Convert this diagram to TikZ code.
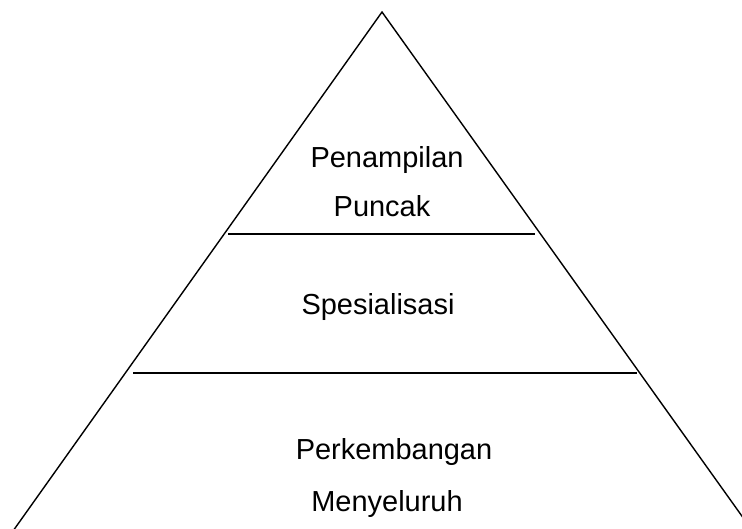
\documentclass[tikz,border=0pt]{standalone}
\usepackage{fontspec}
\setmainfont{Liberation Sans}
\tikzset{lvl/.style={anchor=base, inner sep=0pt, font=\fontsize{20.6}{24}\selectfont}}

\begin{document}
\begin{tikzpicture}[x=0.025cm, y=-0.025cm, line width=1pt]
  \useasboundingbox (0, 0) rectangle (742, 528);
  \clip (0, 0) rectangle (742, 528);

  \coordinate (top) at (382, 12);
  \coordinate (bl)  at (6.6, 540);
  \coordinate (br)  at (759, 540);
  \draw (bl) -- (top) -- (br);

  \draw (228, 234) coordinate (a1) -- (535, 234) coordinate (a2);
  \draw (133, 373) coordinate (b1) -- (637, 373) coordinate (b2);

  \node[lvl] at (387, 167) (pen)  {Penampilan};
  \node[lvl] at (382, 216) (pun)  {Puncak};
  \node[lvl] at (378, 314) (spe)  {Spesialisasi};
  \node[lvl] at (394, 459) (per)  {Perkembangan};
  \node[lvl] at (387, 511) (men)  {Menyeluruh};
\end{tikzpicture}
\end{document}
